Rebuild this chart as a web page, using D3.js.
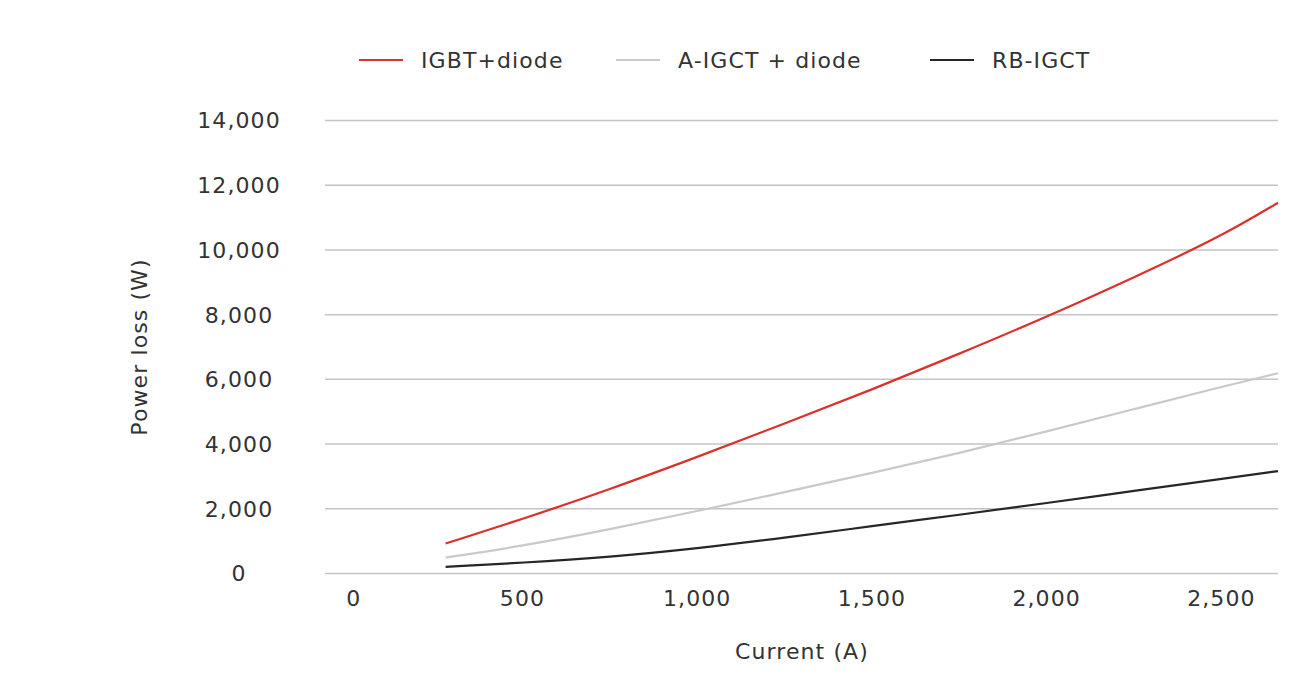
<!DOCTYPE html>
<html>
<head>
<meta charset="utf-8">
<script src="https://d3js.org/d3.v7.min.js"></script>
<style>
* { padding: 0px; margin: 0px; }
body { background: #fff; }
svg { display: block; font-family: 'DejaVu Sans', sans-serif; }
.grid line { stroke: #c4c4c4; stroke-width: 1.5px; }
.lbl { fill: #333; font-size: 22px; letter-spacing: 1.1px; }
</style>
</head>
<body>
<svg width="1305" height="683"></svg>
<script>
// values (current in A, loss in W)
const current = [280, 500, 750, 1000, 1250, 1500, 1750, 2000, 2250, 2500, 2662];
const igbtDiode = [925, 1680, 2600, 3600, 4630, 5680, 6790, 7930, 9150, 10420, 11460];
const aIgctDiode = [490, 850, 1360, 1930, 2510, 3110, 3720, 4390, 5080, 5770, 6190];
const rbIgct = [205, 330, 510, 775, 1105, 1465, 1815, 2175, 2555, 2925, 3165];

const seriesNames = ["IGBT+diode", "A-IGCT + diode", "RB-IGCT"];
const seriesColors = ["#d9322c", "#c9c9c9", "#262626"];
const seriesValues = [igbtDiode, aIgctDiode, rbIgct];

const xTicks = [0, 500, 1000, 1500, 2000, 2500];
const yTicks = [0, 2000, 4000, 6000, 8000, 10000, 12000, 14000];

let svg = d3.select("svg");

let x = d3.scaleLinear().domain([-65, 2662]).range([325, 1278]);
let y = d3.scaleLinear().domain([0, 14000]).range([573.5, 120.5]);

let fmt = d3.format(",");

// gridlines
svg.append("g").attr("class", "grid")
  .selectAll("line")
  .data(yTicks)
  .enter().append("line")
  .attr("x1", x.range()[0])
  .attr("x2", x.range()[1])
  .attr("y1", d => y(d))
  .attr("y2", d => y(d));

// y tick labels (centred in the reference)
svg.append("g")
  .selectAll("text")
  .data(yTicks)
  .enter().append("text")
  .attr("class", "lbl")
  .attr("x", 239)
  .attr("y", d => y(d))
  .attr("dy", "0.36em")
  .attr("text-anchor", "middle")
  .text(fmt);

// x tick labels
svg.append("g")
  .selectAll("text")
  .data(xTicks)
  .enter().append("text")
  .attr("class", "lbl")
  .attr("x", d => x(d) + (d === 0 ? 6 : 0))
  .attr("y", 598)
  .attr("dy", "0.36em")
  .attr("text-anchor", "middle")
  .text(fmt);

// axis titles
svg.append("text")
  .attr("class", "lbl")
  .attr("x", 802)
  .attr("y", 651)
  .attr("dy", "0.36em")
  .attr("text-anchor", "middle")
  .text("Current (A)");

svg.append("text")
  .attr("class", "lbl")
  .attr("transform", "translate(139,347) rotate(-90)")
  .attr("dy", "0.36em")
  .attr("text-anchor", "middle")
  .text("Power loss (W)");

// series
let line = d3.line()
  .x(d => x(d[0]))
  .y(d => y(d[1]))
  .curve(d3.curveBasis);

seriesValues.forEach(function (vals, i) {
  svg.append("path")
    .datum(current.map((c, j) => [c, vals[j]]))
    .attr("fill", "none")
    .attr("stroke", seriesColors[i])
    .attr("stroke-width", 2.2)
    .attr("d", line);
});

// legend
let legendX = [359, 616, 930];
let legend = svg.append("g")
  .selectAll("g")
  .data(seriesNames)
  .enter().append("g")
  .attr("transform", (d, i) => "translate(" + legendX[i] + ",60)");

legend.append("line")
  .attr("x1", 0).attr("x2", 44)
  .attr("stroke", (d, i) => seriesColors[i])
  .attr("stroke-width", 2.2);

legend.append("text")
  .attr("class", "lbl")
  .attr("x", 62)
  .attr("dy", "0.36em")
  .text(d => d);
</script>
</body>
</html>
